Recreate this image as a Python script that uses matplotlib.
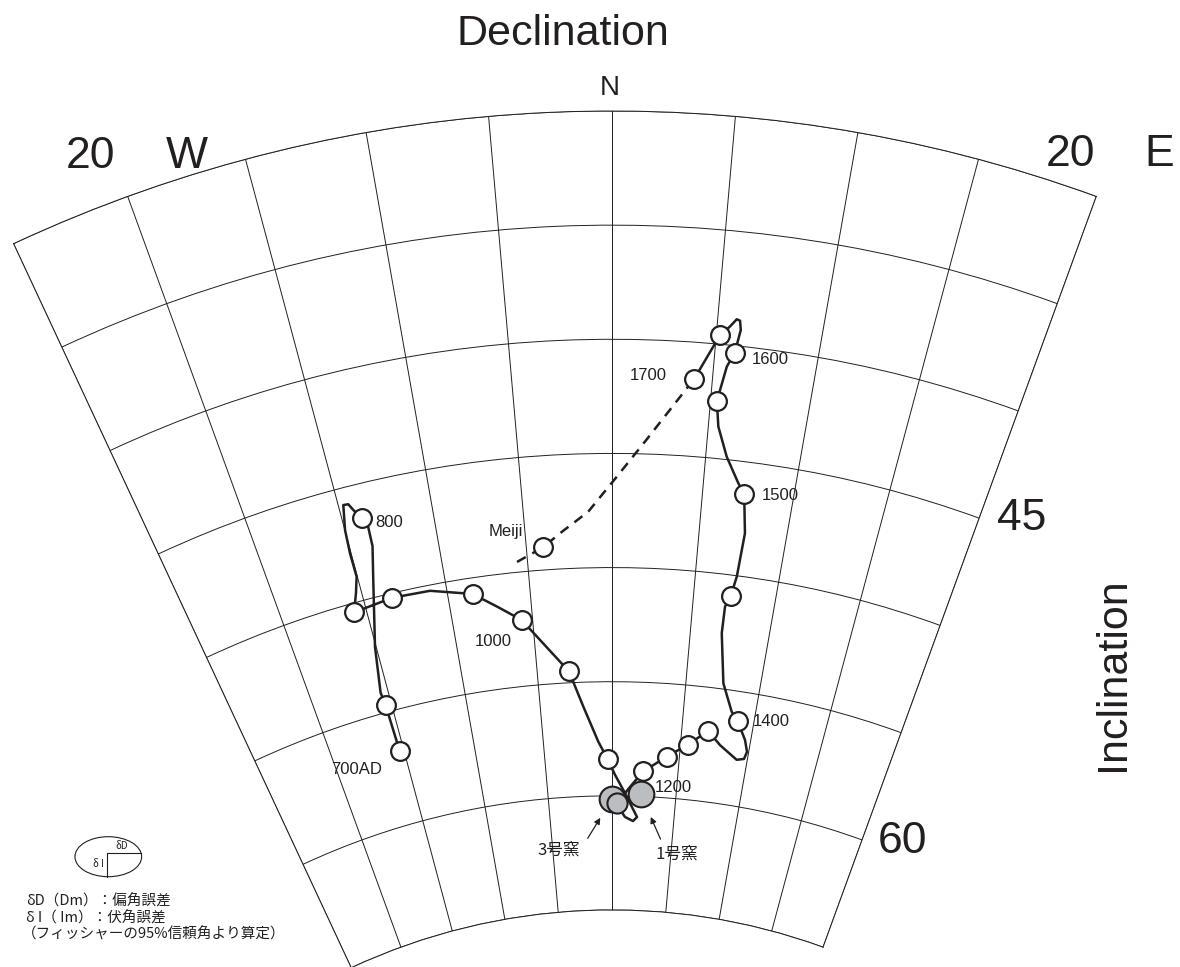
import numpy as np
import matplotlib
matplotlib.use('Agg')
import matplotlib.pyplot as plt
from matplotlib.patches import Ellipse
from matplotlib.lines import Line2D

plt.rcParams['font.family'] = ['Liberation Sans', 'Noto Sans CJK JP', 'DejaVu Sans']
INK = '#231f20'
CJK = ['Noto Sans CJK JP', 'DejaVu Sans']

# secular variation curve 700AD -> 1700, declination D / inclination I (deg)
path_D = [-15.30, -15.40, -15.50, -15.07, -14.15, -13.72, -13.70, -13.92,
          -14.27, -14.46, -14.73, -14.99, -15.06, -15.04, -15.33, -15.75,
          -13.31, -11.00, -8.50, -7.07, -5.69, -2.88, -2.00, -1.00, -0.32,
          0.23, 0.88, 1.57, 2.02, 1.70, 1.05, 0.56, 0.71, 1.52, 2.37,
          4.06, 5.53, 6.89, 7.86, 9.23, 9.75, 9.88, 9.59, 8.86,
          8.35, 7.52, 7.00, 7.00, 7.27, 7.48, 7.62, 7.29,
          6.90, 6.12, 5.52, 5.32, 5.65, 5.97, 6.14, 6.06, 5.90, 5.61, 5.18, 4.10]
path_I = [56.8, 54.7, 54.1, 52.1, 49.25, 47.8, 46.9, 46.5,
          46.06, 45.76, 45.74, 46.82, 47.86, 48.92, 49.61, 50.4,
          50.2, 50.25, 50.7, 51.42, 52.1, 54.5, 56.07, 57.62, 58.4,
          59.08, 59.74, 60.46, 60.91, 61.09, 60.92, 60.53, 60.09, 59.51, 58.9,
          58.2, 57.6, 56.9, 57.45, 57.98, 57.89, 57.56, 57.06, 56.3,
          55.93, 54.75, 52.58, 51.41, 50.9, 50.04, 48.11, 46.4,
          45.97, 44.88, 43.60, 42.5, 40.95, 40.3, 39.29, 38.89, 38.84, 39.19, 39.6, 41.6]

# dated points on the curve (open circles)
pt_D = [-15.30, -15.40, -13.92, -15.75, -13.31, -8.50, -5.69, -2.88, -0.32,
        2.37, 4.06, 5.53, 6.89, 8.86, 7.27, 7.29, 5.32, 5.97, 5.18, 4.10]
pt_I = [56.8, 54.7, 46.5, 50.4, 50.2, 50.7, 52.1, 54.5, 58.4,
        58.9, 58.2, 57.6, 56.9, 56.3, 50.9, 46.4, 42.5, 40.3, 39.6, 41.6]

# present end -> Meiji -> 1700 (dashed)
modern_D = [-5.62, -4.01, -3.00, -1.34, 0.26, 1.74, 4.10]
modern_I = [49.55, 49.0, 48.44, 47.54, 46.02, 44.46, 41.6]
meiji_D, meiji_I = -4.01, 49.0

# kiln results (grey)
kiln_D = [-0.02, 0.37, 2.25]
kiln_I = [60.15, 60.3, 59.9]

# age labels
lab_text = ['700AD', '800', '1000', '1200', '1400', '1500', '1600', '1700', 'Meiji']
lab_D = [-15.30, -13.92, -5.69, 2.37, 8.86, 7.29, 5.97, 4.10, -4.01]
lab_I = [56.8, 46.5, 52.1, 58.9, 56.3, 46.4, 40.3, 41.6, 49.0]


def th(d):
    return np.radians(d)


def rr(i):
    return 90 - np.asarray(i)


W, H = 1180, 967
fig = plt.figure(figsize=(W / 100, H / 100), dpi=100)


def px(x, y):
    return x / W, 1 - y / H


ax = fig.add_axes([0, 0, 1, 1], projection='polar')
ax.set_theta_zero_location('N')
ax.set_theta_direction(-1)
ax.set_thetamin(-25)
ax.set_thetamax(20)
ax.set_rlim(25, 60)
ax.set_rorigin(-2.03)
ax.set_xticks(th(np.arange(-25, 21, 5)))
ax.set_yticks(rr(np.arange(30, 66, 5)))
ax.set_xticklabels([])
ax.set_yticklabels([])
ax.tick_params(length=0)
ax.grid(True, color=INK, lw=0.7)
for sp in ax.spines.values():
    sp.set_color(INK)
    sp.set_linewidth(0.7)

ax.plot(th(path_D), rr(path_I), color=INK, lw=1.8, zorder=3,
        solid_joinstyle='round', solid_capstyle='round')
ax.plot(th(modern_D), rr(modern_I), color=INK, lw=1.8, dashes=(4, 3), zorder=3)

for d, i, ms in zip(kiln_D, kiln_I, [18.5, 14.5, 18.5]):
    ax.plot(th(d), rr(i), 'o', ms=ms, mfc='#bcbdc0', mec=INK, mew=1.5, zorder=4)

ax.plot(th(pt_D), rr(pt_I), 'o', ms=13.5, mfc='white', mec=INK, mew=1.6, zorder=5)
ax.plot(th(meiji_D), rr(meiji_I), 'o', ms=13.5, mfc='white', mec=INK, mew=1.6, zorder=5)

offs = [(-12.5, -12, 'right'), (9.5, -2, 'left'), (-20.4, -14.4, 'center'),
        (8.4, -10.3, 'left'), (11.2, 0.7, 'left'), (12.5, 0, 'left'),
        (12, -3.6, 'left'), (-19.9, 3.1, 'right'), (-14.6, 12.5, 'right')]
for t, d, i, (dx, dy, ha) in zip(lab_text, lab_D, lab_I, offs):
    ax.annotate(t, (th(d), rr(i)), xytext=(dx, dy), textcoords='offset points',
                ha=ha, va='center_baseline', fontsize=12, color=INK, zorder=6)

# kiln labels with arrows
arr = dict(arrowstyle='-|>', color=INK, lw=0.9, shrinkA=0, mutation_scale=9)
ax.annotate('', (th(kiln_D[0]), rr(kiln_I[0])), xytext=(-17.3, -28.1),
            textcoords='offset points', arrowprops=dict(arr, shrinkB=15.7))
ax.annotate('3号窯', (th(kiln_D[0]), rr(kiln_I[0])), xytext=(-37.9, -36.5),
            textcoords='offset points', ha='center', va='center',
            fontsize=12, family=CJK, color=INK)
ax.annotate('', (th(kiln_D[2]), rr(kiln_I[2])), xytext=(14.2, -32.4),
            textcoords='offset points', arrowprops=dict(arr, shrinkB=17.9))
ax.annotate('1号窯', (th(kiln_D[2]), rr(kiln_I[2])), xytext=(26.1, -43.2),
            textcoords='offset points', ha='center', va='center',
            fontsize=12, family=CJK, color=INK)

# place the fan so that N line top/bottom land where they are in the reference
fig.canvas.draw()
bb = ax.get_position()
ox, oy, sw, sh = bb.x0 * W, bb.y0 * H, bb.width * W, bb.height * H
top = ax.transData.transform((0, rr(30)))
bot = ax.transData.transform((0, rr(65)))
want_top = np.array([612, H - 111])
want_bot = np.array([612, H - 910])
k = (want_top[1] - want_bot[1]) / (top[1] - bot[1])
nx = want_top[0] - k * (top[0] - ox)
ny = want_top[1] - k * (top[1] - oy)
ax.set_position([nx / W, ny / H, k * sw / W, k * sh / H])

# axis titles
fig.text(*px(563, 45), 'Declination', fontsize=31, ha='center', va='baseline', color=INK)
fig.text(*px(610, 88), 'N', fontsize=20, ha='center', va='center', color=INK)
fig.text(*px(115, 168), '20', fontsize=32, ha='right', va='baseline', color=INK)
fig.text(*px(166, 168), 'W', fontsize=32, ha='left', va='baseline', color=INK)
fig.text(*px(1095, 166), '20', fontsize=32, ha='right', va='baseline', color=INK)
fig.text(*px(1144, 166), 'E', fontsize=32, ha='left', va='baseline', color=INK)
fig.text(*px(997, 530), '45', fontsize=32, ha='left', va='baseline', color=INK)
fig.text(*px(878, 853), '60', fontsize=32, ha='left', va='baseline', color=INK)
fig.text(*px(1113, 674), 'Inclination', fontsize=31, rotation=90,
         ha='center', va='center', color=INK)

# error ellipse legend
fig.add_artist(Ellipse(px(108.3, 856.7), 66.7 / W, 40 / H, transform=fig.transFigure,
                       fill=False, ec=INK, lw=0.8))
fig.add_artist(Line2D([107.3 / W, 107.3 / W, 141 / W], [1 - 876.5 / H, 1 - 853.3 / H, 1 - 853.3 / H],
                      transform=fig.transFigure, color=INK, lw=0.8))
fig.text(*px(122, 846), 'δD', fontsize=7, ha='center', va='center', family=CJK, color=INK)
fig.text(*px(98, 864), 'δ I', fontsize=7, ha='center', va='center', family=CJK, color=INK)
fig.text(*px(26, 901.7), 'δD（Dm）：偏角誤差', fontsize=10.5, ha='left', va='center',
         family=CJK, color=INK)
fig.text(*px(26, 918.3), 'δ I（ Im）：伏角誤差', fontsize=10.5, ha='left', va='center',
         family=CJK, color=INK)
fig.text(*px(22, 934), '（フィッシャーの95%信頼角より算定）', fontsize=10.5, ha='left',
         va='center', family=CJK, color=INK)

fig.savefig('out.png', dpi=100, facecolor='white')
